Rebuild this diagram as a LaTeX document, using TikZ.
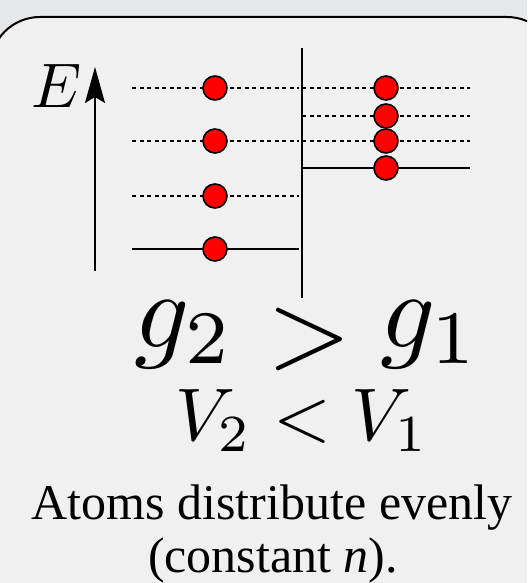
\RequirePackage{fix-cm}
\documentclass[tikz,border=0pt]{standalone}
\usepackage{graphicx}
\usepackage{fontspec}
\setmainfont{Liberation Serif}
\usetikzlibrary{arrows.meta}
\definecolor{outerbg}{RGB}{230,231,232}
\definecolor{innerbg}{RGB}{240,240,240}
\begin{document}
\begin{tikzpicture}[x=1pt,y=-1pt,
  level/.style={line width=1.4pt},
  dlevel/.style={line width=1.4pt, dash pattern=on 4pt off 3.5pt},
  divider/.style={line width=2pt},
  atom/.style={circle, fill=red, draw=black, line width=1.6pt, minimum size=24pt, inner sep=0pt},
  mathlbl/.style={anchor=base, inner sep=0pt, font=\fontsize{10}{12}\selectfont},
  axisarrow/.style={line width=2pt, -{Stealth[length=36pt,width=20pt,inset=6pt]}}]
\useasboundingbox (0,0) rectangle (527,583);
\fill[outerbg] (0,0) rectangle (527,583);
\begin{scope}
\clip (0,0) rectangle (527,583);
\draw[fill=innerbg, line width=2pt, rounded corners=50pt] (-10,17) rectangle (557,650);
\end{scope}
% energy axis
\coordinate (ab) at (95,271);
\coordinate (at) at (95,67);
\draw[axisarrow] (ab) -- (at);
\node[mathlbl] (E) at (57,108) {\scalebox{6.3}{$E$}};
% divider
\coordinate (dt) at (302,48);
\coordinate (db) at (302,298);
\draw[divider] (dt) -- (db);
% left levels
\foreach \n/\y in {1/249,2/196,3/141,4/88}{
  \coordinate (l\n a) at (132,\y);
  \coordinate (l\n b) at (299,\y);
}
\draw[level] (l1a) -- (l1b);
\draw[dlevel] (l2a) -- (l2b);
\draw[dlevel] (l3a) -- (l3b);
\draw[dlevel] (l4a) -- (l4b);
% right levels
\foreach \n/\y in {1/168,2/141,3/116,4/88}{
  \coordinate (r\n a) at (302,\y);
  \coordinate (r\n b) at (470,\y);
}
\draw[level] (r1a) -- (r1b);
\draw[dlevel] (r2a) -- (r2b);
\draw[dlevel] (r3a) -- (r3b);
\draw[dlevel] (r4a) -- (r4b);
% atoms
\node[atom] (la1) at (215,249) {};
\node[atom] (la2) at (215,196) {};
\node[atom] (la3) at (215,141) {};
\node[atom] (la4) at (215,88) {};
\node[atom] (ra1) at (386,168) {};
\node[atom] (ra2) at (386,141) {};
\node[atom] (ra3) at (386,116) {};
\node[atom] (ra4) at (386,88) {};
% labels
\node[mathlbl] (g2) at (184,347) {\scalebox{10.8}{$g_2$}};
\node[mathlbl] (gt) at (309,366) {\scalebox{10.8}{$>$}};
\node[mathlbl] (g1) at (430,347) {\scalebox{10.8}{$g_1$}};
\node[mathlbl] (V) at (302,440) {\scalebox{7.45}{$V_2<V_1$}};
\node[anchor=base, font=\fontsize{50}{50}\selectfont] (t1) at (272,519) {Atoms distribute evenly};
\node[anchor=base, font=\fontsize{50}{50}\selectfont] (t2) at (273,572) {(constant \textit{n}).};
\end{tikzpicture}
\end{document}
